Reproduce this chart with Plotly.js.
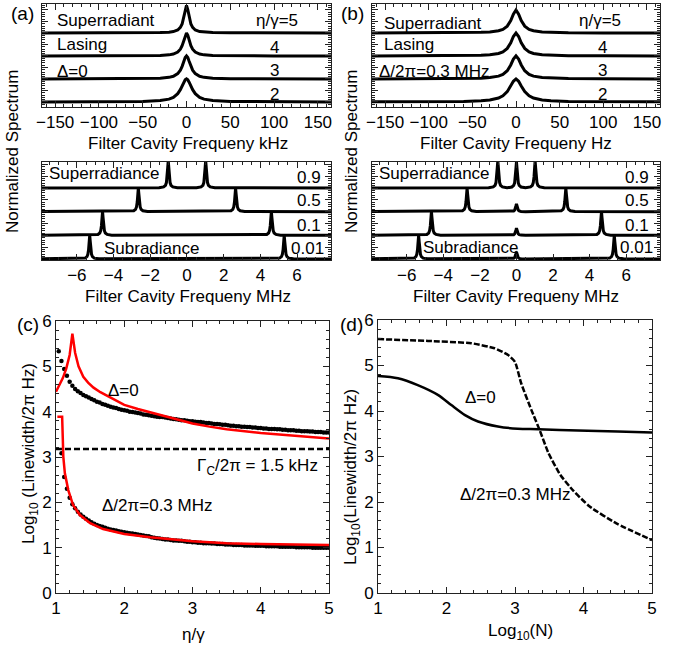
<!DOCTYPE html>
<html><head><meta charset="utf-8">
<script src="https://cdn.plot.ly/plotly-3.0.1.min.js"></script>
<style>html,body{margin:0;padding:0;background:#fff}#plot{width:678px;height:647px}</style>
</head><body><div id="plot"></div>
<script>
// ---------- DATA ----------
// Panel (a) upper: spectra vs filter cavity frequency (kHz), Delta = 0
const specAx = [-165,-100,-50,-30,-20,-15,-10,-7,-5,-3,-1.5,0,1.5,3,5,7,10,15,20,30,50,100,165];
const specA5 = [0,0.001,0.006,0.016,0.036,0.06,0.13,0.24,0.39,0.69,1.01,1.2,1.01,0.69,0.39,0.24,0.13,0.06,0.036,0.016,0.006,0.001,0];
const specA4 = [0.001,0.002,0.008,0.022,0.048,0.083,0.168,0.292,0.447,0.69,0.90,1,0.90,0.69,0.447,0.292,0.168,0.083,0.048,0.022,0.008,0.002,0.001];
const specA3 = [0.001,0.003,0.012,0.033,0.070,0.118,0.232,0.382,0.548,0.77,0.93,1,0.93,0.77,0.548,0.382,0.232,0.118,0.070,0.033,0.012,0.003,0.001];
const specA2 = [0.002,0.006,0.022,0.059,0.123,0.2,0.36,0.534,0.69,0.862,0.96,1,0.96,0.862,0.69,0.534,0.36,0.2,0.123,0.059,0.022,0.006,0.002];
// Panel (b) upper: spectra vs filter cavity frequency (Hz), Delta/2pi = 0.3 MHz
const specBx = [-165,-100,-60,-40,-30,-20,-15,-10,-6,-3,0,3,6,10,15,20,30,40,60,100,165];
const specB5 = [0.002,0.004,0.012,0.026,0.045,0.096,0.158,0.297,0.54,0.82,1,0.82,0.54,0.297,0.158,0.096,0.045,0.026,0.012,0.004,0.002];
const specB4 = [0.002,0.005,0.013,0.030,0.052,0.109,0.179,0.329,0.576,0.845,1,0.845,0.576,0.329,0.179,0.109,0.052,0.030,0.013,0.005,0.002];
const specB3 = [0.002,0.006,0.015,0.034,0.059,0.123,0.2,0.36,0.61,0.862,1,0.862,0.61,0.36,0.2,0.123,0.059,0.034,0.015,0.006,0.002];
const specB2 = [0.003,0.008,0.022,0.048,0.083,0.168,0.265,0.447,0.69,0.90,1,0.90,0.69,0.447,0.265,0.168,0.083,0.048,0.022,0.008,0.003];
const upperLabels = ['2','3','4','η/γ=5'];

// Lower panels: narrow lines (MHz)
const lowerLabels = ['0.01','0.1','0.5','0.9'];
const peakOffsets = [-0.5,-0.25,-0.15,-0.1,-0.06,-0.03,0,0.03,0.06,0.1,0.15,0.25,0.5];
const peakShape   = [0.01,0.04,0.1,0.2,0.41,0.74,1,0.74,0.41,0.2,0.1,0.04,0.01];
const peakPosA    = [5.3,4.6,2.65,1.02];
const peakHeightA = [1.0,1.0,1.0,1.15];
const peakPosB    = [5.35,4.65,2.7,1.02];
const peakHeightB = [1.0,1.0,1.0,1.15];
const centerHeightB = [0.3,0.3,0.33,1.1];

// Panel (c)
const etaDots = [1.04,1.08,1.12,1.16,1.20,1.24,1.28,1.32,1.36,1.40,1.44,1.48,1.52,1.56,1.60,1.64,1.68,1.72,1.76,1.80,1.84,1.88,1.92,1.96,2.00,2.04,2.08,2.12,2.16,2.20,2.24,2.28,2.32,2.36,2.40,2.44,2.48,2.52,2.56,2.60,2.64,2.68,2.72,2.76,2.80,2.84,2.88,2.92,2.96,3.00,3.04,3.08,3.12,3.16,3.20,3.24,3.28,3.32,3.36,3.40,3.44,3.48,3.52,3.56,3.60,3.64,3.68,3.72,3.76,3.80,3.84,3.88,3.92,3.96,4.00,4.04,4.08,4.12,4.16,4.20,4.24,4.28,4.32,4.36,4.40,4.44,4.48,4.52,4.56,4.60,4.64,4.68,4.72,4.76,4.80,4.84,4.88,4.92,4.96,5.00];
const dotsDelta0 = [5.33,5.12,4.94,4.79,4.66,4.57,4.50,4.45,4.41,4.37,4.34,4.31,4.28,4.25,4.22,4.20,4.17,4.15,4.13,4.11,4.09,4.08,4.06,4.04,4.03,4.02,4.00,3.99,3.98,3.97,3.96,3.94,3.93,3.92,3.91,3.90,3.89,3.88,3.88,3.87,3.86,3.85,3.84,3.83,3.82,3.81,3.81,3.80,3.79,3.79,3.78,3.77,3.77,3.76,3.75,3.75,3.74,3.73,3.73,3.72,3.71,3.71,3.70,3.69,3.69,3.68,3.68,3.67,3.67,3.66,3.66,3.65,3.65,3.64,3.64,3.63,3.63,3.62,3.62,3.62,3.61,3.61,3.60,3.60,3.59,3.59,3.59,3.58,3.58,3.57,3.57,3.57,3.56,3.56,3.55,3.55,3.55,3.54,3.54,3.54];
const dotsDelta03 = [null,3.08,2.56,2.30,2.10,1.96,1.87,1.79,1.73,1.68,1.64,1.60,1.56,1.53,1.50,1.48,1.46,1.44,1.42,1.40,1.39,1.38,1.36,1.35,1.34,1.33,1.32,1.31,1.30,1.29,1.28,1.27,1.26,1.25,1.23,1.22,1.21,1.20,1.19,1.18,1.18,1.17,1.16,1.16,1.15,1.15,1.14,1.13,1.13,1.12,1.12,1.11,1.11,1.10,1.10,1.10,1.09,1.09,1.08,1.08,1.08,1.07,1.07,1.07,1.06,1.06,1.06,1.06,1.05,1.05,1.05,1.05,1.04,1.04,1.04,1.04,1.03,1.03,1.03,1.03,1.03,1.02,1.02,1.02,1.02,1.02,1.02,1.01,1.01,1.01,1.01,1.01,1.01,1.00,1.00,1.00,1.00,1.00,1.00,1.00];
const redD0x = [1.00,1.05,1.10,1.15,1.20,1.24,1.28,1.33,1.40,1.47,1.55,1.65,1.75,1.87,2.0,2.2,2.4,2.6,2.8,3.0,3.25,3.5,4.0,4.5,5.0];
const redD0y = [4.44,4.58,4.74,4.95,5.25,5.72,5.30,5.00,4.77,4.64,4.53,4.43,4.35,4.26,4.15,4.06,3.98,3.90,3.81,3.74,3.67,3.61,3.53,3.47,3.41];
const redD03x = [1.02,1.09,1.10,1.107,1.13,1.18,1.25,1.35,1.5,1.69,2.0,2.38,3.0,3.5,4.0,4.5,5.0];
const redD03y = [3.89,3.89,3.38,3.01,2.64,2.27,1.94,1.72,1.54,1.41,1.30,1.23,1.14,1.10,1.08,1.07,1.06];
const gammaCx = [1,5];
const gammaCy = [3.176,3.176];   // log10(1.5 kHz)

// Panel (d)
const logNsolid = [1.0,1.29,1.58,1.88,2.07,2.27,2.46,2.75,3.04,3.34,3.92,4.5,5.0];
const lwSolid   = [4.77,4.72,4.57,4.35,4.13,3.91,3.77,3.66,3.61,3.60,3.57,3.55,3.53];
const logNdash  = [1.0,1.73,2.36,2.70,2.90,3.0,3.09,3.24,3.36,3.49,3.66,3.85,4.09,4.48,5.0];
const lwDash    = [5.58,5.54,5.49,5.38,5.23,5.08,4.61,4.02,3.58,3.07,2.60,2.25,1.90,1.53,1.16];

// ---------- LAYOUT HELPERS ----------
const W = 678, H = 647;
const px = x => x / W;
const py = y => 1 - y / H;
const dx = (a, b) => [px(a), px(b)];
const dy = (t, b) => [py(b), py(t)];
const FONT = 'Liberation Sans, Arial, Helvetica, sans-serif';

function ax(extra) {
  return Object.assign({
    showline: true, mirror: 'allticks', linecolor: '#222', linewidth: 1,
    ticks: 'inside', ticklen: 6, tickwidth: 1, tickcolor: '#222',
    showgrid: false, zeroline: false, fixedrange: true,
    tickfont: {family: FONT, size: 17, color: '#000'}
  }, extra);
}

const traces = [];
const line3 = {color: '#000', width: 3};

// upper (a)
[specA2, specA3, specA4, specA5].forEach((s, k) => {
  traces.push({x: specAx, y: s.map(v => v + k), mode: 'lines', line: line3, xaxis: 'x', yaxis: 'y', hoverinfo: 'skip'});
});
// upper (b)
[specB2, specB3, specB4, specB5].forEach((s, k) => {
  traces.push({x: specBx, y: s.map(v => v + k), mode: 'lines', line: line3, xaxis: 'x3', yaxis: 'y3', hoverinfo: 'skip'});
});

function lowerTrace(pos, h, ch, k, xa, ya) {
  const pts = [[-9, 0], [9, 0]];
  [-1, 1].forEach(sg => peakOffsets.forEach((o, i) => pts.push([sg * pos + o, h * peakShape[i]])));
  if (ch) peakOffsets.forEach((o, i) => pts.push([o, ch * peakShape[i]]));
  pts.sort((a, b) => a[0] - b[0]);
  return {x: pts.map(p => p[0]), y: pts.map(p => p[1] + k), mode: 'lines', line: line3, xaxis: xa, yaxis: ya, hoverinfo: 'skip'};
}
for (let k = 0; k < 4; k++) {
  traces.push(lowerTrace(peakPosA[k], peakHeightA[k], 0, k, 'x2', 'y2'));
  traces.push(lowerTrace(peakPosB[k], peakHeightB[k], centerHeightB[k], k, 'x4', 'y4'));
}

// (c)
traces.push({x: gammaCx, y: gammaCy, mode: 'lines', line: {color: '#000', width: 2.5, dash: '6px,3px'}, xaxis: 'x5', yaxis: 'y5'});
traces.push({x: etaDots, y: dotsDelta0, mode: 'markers', marker: {color: '#000', size: 4.5}, xaxis: 'x5', yaxis: 'y5'});
traces.push({x: etaDots, y: dotsDelta03, mode: 'markers', marker: {color: '#000', size: 4.5}, xaxis: 'x5', yaxis: 'y5'});
traces.push({x: redD0x, y: redD0y, mode: 'lines', line: {color: '#ff0000', width: 2.5}, xaxis: 'x5', yaxis: 'y5'});
traces.push({x: redD03x, y: redD03y, mode: 'lines', line: {color: '#ff0000', width: 2.5}, xaxis: 'x5', yaxis: 'y5'});
// (d)
traces.push({x: logNsolid, y: lwSolid, mode: 'lines', line: {color: '#000', width: 2.5, shape: 'spline', smoothing: 0.8}, xaxis: 'x6', yaxis: 'y6'});
traces.push({x: logNdash, y: lwDash, mode: 'lines', line: {color: '#000', width: 2.5, dash: '6px,2px', shape: 'spline', smoothing: 0.5}, xaxis: 'x6', yaxis: 'y6'});

const upX = {range: [-165, 165], tickvals: [-150,-100,-50,0,50,100,150], minor: {ticks: 'inside', ticklen: 3, dtick: 10, tickcolor: '#222'}};
const upY = {range: [-0.22, 4.26], showticklabels: false, tick0: 0, dtick: 0.5, minor: {ticks: 'inside', ticklen: 3, dtick: 0.1, tickcolor: '#222'}};
const loX = {range: [-7.9, 7.85], tickvals: [-6,-4,-2,0,2,4,6], minor: {ticks: 'inside', ticklen: 3, dtick: 0.5, tickcolor: '#222'}};
const loY = {range: [-0.04, 4.1], showticklabels: false, tick0: 0, dtick: 0.5, minor: {ticks: 'inside', ticklen: 3, dtick: 0.1, tickcolor: '#222'}};
const cdX = {range: [1, 5], dtick: 1, minor: {ticks: 'inside', ticklen: 3, dtick: 0.2, tickcolor: '#222'}};
const cdY = {range: [0, 6], dtick: 1, minor: {ticks: 'inside', ticklen: 3, dtick: 0.2, tickcolor: '#222'}};

function ann(text, x, y, opts) {
  return Object.assign({text: text, x: px(x), y: py(y), xref: 'paper', yref: 'paper', showarrow: false,
    xanchor: 'center', yanchor: 'middle', font: {family: FONT, size: 17, color: '#000'}}, opts || {});
}

const annotations = [
  // panel labels
  ann('(a)', 22, 13, {font: {family: FONT, size: 19, color: '#000'}}),
  ann('(b)', 352, 13, {font: {family: FONT, size: 19, color: '#000'}}),
  ann('(c)', 28, 324, {font: {family: FONT, size: 19, color: '#000'}}),
  ann('(d)', 351, 324, {font: {family: FONT, size: 19, color: '#000'}}),
  // (a) upper
  ann('Superradiant', 55, 21, {xanchor: 'left'}),
  ann('Lasing', 55, 44, {xanchor: 'left'}),
  ann('Δ=0', 55, 71, {xanchor: 'left'}),
  ann(upperLabels[3], 277, 20),
  ann(upperLabels[2], 274, 47),
  ann(upperLabels[1], 274, 70),
  ann(upperLabels[0], 274, 94),
  ann('Filter Cavity Frequeny kHz', 188, 144),
  // (a) lower
  ann('Superradiance', 47, 173, {xanchor: 'left'}),
  ann('Subradiance', 151, 249),
  ann(lowerLabels[3], 309, 178),
  ann(lowerLabels[2], 309, 201),
  ann(lowerLabels[1], 309, 225),
  ann(lowerLabels[0], 307, 249),
  ann('Filter Cavity Frequeny MHz', 188, 296),
  // (b) upper
  ann('Superradiant', 382, 24, {xanchor: 'left'}),
  ann('Lasing', 382, 45, {xanchor: 'left'}),
  ann('Δ/2π=0.3 MHz', 377, 71, {xanchor: 'left'}),
  ann(upperLabels[3], 600, 20),
  ann(upperLabels[2], 602, 47),
  ann(upperLabels[1], 602, 70),
  ann(upperLabels[0], 602, 94),
  ann('Filter Cavity Frequeny Hz', 516, 144),
  // (b) lower
  ann('Superradiance', 377, 173, {xanchor: 'left'}),
  ann('Subradiance', 470, 248),
  ann(lowerLabels[3], 637, 178),
  ann(lowerLabels[2], 637, 201),
  ann(lowerLabels[1], 637, 225),
  ann(lowerLabels[0], 636, 248),
  ann('Filter Cavity Frequeny MHz', 516, 296),
  // shared y titles
  ann('Normalized Spectrum', 12, 152, {textangle: -90}),
  ann('Normalized Spectrum', 351, 152, {textangle: -90}),
  // (c)
  ann('Δ=0', 123, 390),
  ann('Γ<sub>C</sub>/2π = 1.5 kHz', 257, 467),
  ann('Δ/2π=0.3 MHz', 157, 505),
  ann('η/γ', 193, 634),
  ann('Log<sub>10</sub> (Linewidth/2π Hz)', 30, 454, {textangle: -90}),
  // (d)
  ann('Δ=0', 480, 398),
  ann('Δ/2π=0.3 MHz', 515, 494),
  ann('Log<sub>10</sub>(N)', 520, 632),
  ann('Log<sub>10</sub>(Linewidth/2π Hz)', 352, 477, {textangle: -90})
];

const layout = {
  width: W, height: H,
  margin: {l: 0, r: 0, t: 0, b: 0},
  paper_bgcolor: '#fff', plot_bgcolor: '#fff',
  showlegend: false,
  xaxis:  ax(Object.assign({domain: dx(42, 331), anchor: 'y'}, upX)),
  yaxis:  ax(Object.assign({domain: dy(4, 107), anchor: 'x'}, upY)),
  xaxis2: ax(Object.assign({domain: dx(42, 331), anchor: 'y2'}, loX)),
  yaxis2: ax(Object.assign({domain: dy(162, 260), anchor: 'x2'}, loY)),
  xaxis3: ax(Object.assign({domain: dx(372, 660), anchor: 'y3'}, upX)),
  yaxis3: ax(Object.assign({domain: dy(4, 107), anchor: 'x3'}, upY)),
  xaxis4: ax(Object.assign({domain: dx(372, 660), anchor: 'y4'}, loX)),
  yaxis4: ax(Object.assign({domain: dy(162, 260), anchor: 'x4'}, loY)),
  xaxis5: ax(Object.assign({domain: dx(56, 329), anchor: 'y5'}, cdX)),
  yaxis5: ax(Object.assign({domain: dy(321, 593), anchor: 'x5'}, cdY)),
  xaxis6: ax(Object.assign({domain: dx(378, 652), anchor: 'y6'}, cdX)),
  yaxis6: ax(Object.assign({domain: dy(320, 593), anchor: 'x6'}, cdY)),
  annotations: annotations
};

Plotly.newPlot('plot', traces, layout, {staticPlot: true, displayModeBar: false});
</script>
</body></html>
